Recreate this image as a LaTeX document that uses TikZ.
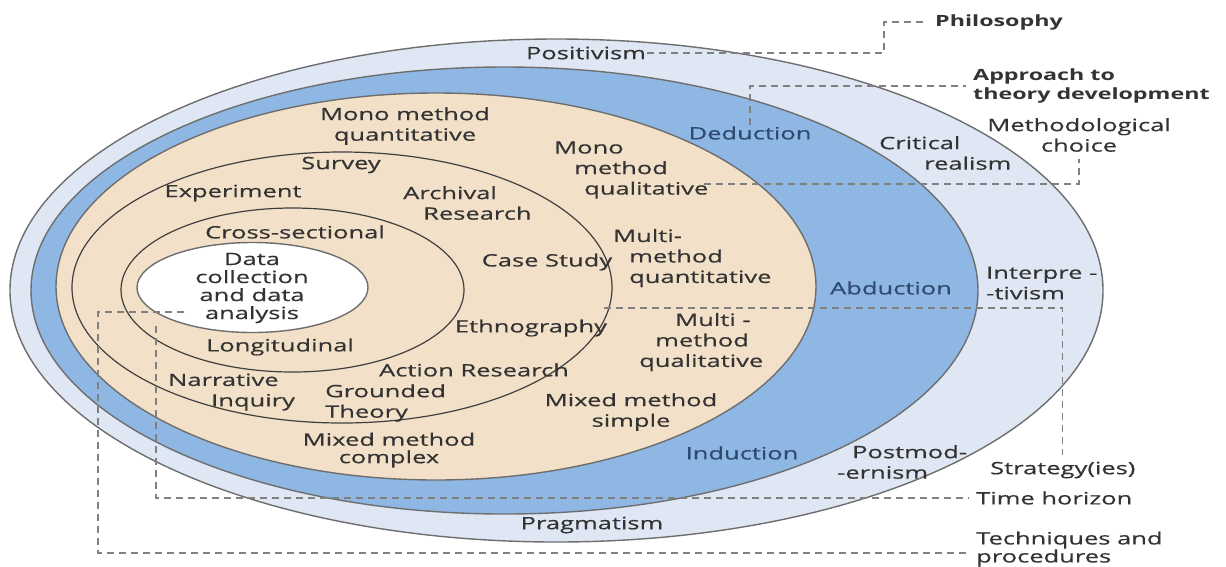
\documentclass[tikz,border=0pt]{standalone}
\usepackage{fontspec}
\setmainfont{Open Sans}[FakeStretch=1.5, UprightFeatures={FakeBold=0.5}]
\usepackage{tikz}
\usepackage{xcolor}
\usetikzlibrary{positioning, calc}
\definecolor{philoblue}{HTML}{DFE7F4}
\definecolor{approachblue}{HTML}{8FB7E4}
\definecolor{choicebeige}{HTML}{F2E0C8}
\definecolor{rimgray}{HTML}{6E6E6E}
\definecolor{textgray}{HTML}{333333}
\definecolor{deepslate}{HTML}{2E4A6E}
\tikzstyle{layer} = [draw=rimgray, line width=1.4pt]
\tikzstyle{ring} = [draw=black!75, line width=1.2pt]
\tikzstyle{txt} = [text=textgray, align=center, inner sep=1pt]
\tikzstyle{side} = [txt, align=left, anchor=west]
\tikzstyle{appr} = [txt, text=deepslate]
\tikzstyle{leader} = [draw=black!50, line width=1.2pt, dash pattern=on 7pt off 5pt, shorten >=6pt]

\begin{document}
\begin{tikzpicture}[x=1pt, y=-1pt, font=\fontsize{17}{20.5}\selectfont]
\useasboundingbox (0,0) rectangle (1226,566);

% layers of the onion
\draw[layer, fill=philoblue] (556.5,290.5) ellipse [x radius=546.5, y radius=251.5];
\draw[layer, fill=approachblue] (504.5,290.5) ellipse [x radius=473.5, y radius=223.5];
\draw[layer, fill=choicebeige] (436,286.5) ellipse [x radius=380, y radius=193.5];
\draw[ring] (342,287.5) ellipse [x radius=270, y radius=135.5];
\draw[ring] (292.5,290) ellipse [x radius=171.5, y radius=82];
\draw[layer, fill=white] (252.5,287.5) ellipse [x radius=115.5, y radius=45];

% philosophy
\node[txt] (positivism) at (586,53) {Positivism};
\node[txt] (pragmatism) at (592,525) {Pragmatism};
\node[side] (critical) at (878,153) {Critical\\\hspace*{45pt}realism};
\node[side] (interpretivism) at (985,283) {Interpre -\\-tivism};
\node[side] (postmodernism) at (836,462) {\hspace*{15pt}Postmod-\\-ernism};

% approach
\node[appr] (deduction) at (750,133) {Deduction};
\node[appr] (abduction) at (891,288) {Abduction};
\node[appr] (induction) at (742,453) {Induction};

% choice
\node[txt] (monoquant) at (405,126) {Mono method\\quantitative};
\node[side] (monoqual) at (553,170) {Mono\\\hspace*{20pt}method\\\hspace*{30pt}qualitative};
\node[side] (multiquant) at (612,258) {Multi-\\\hspace*{16pt}method\\\hspace*{16pt}quantitative};
\node[side] (multiqual) at (638,342) {\hspace*{36pt}Multi -\\\hspace*{16pt}method\\qualitative};
\node[txt] (mixedsimple) at (631,412) {Mixed method\\simple};
\node[txt, font=\fontsize{17}{17.5}\selectfont] (mixedcomplex) at (389,450) {Mixed method\\complex};

% strategies
\node[txt] (survey) at (341,165) {Survey};
\node[txt] (experiment) at (233,193) {Experiment};
\node[side] (archival) at (402,203) {Archival\\\hspace*{20pt}Research};
\node[txt] (casestudy) at (547,262) {Case Study};
\node[txt] (ethnography) at (531,328) {Ethnography};
\node[txt] (actionresearch) at (474,370) {Action Research};
\node[side] (narrative) at (167,392) {Narrative\\\hspace*{43pt}Inquiry};
\node[side] (grounded) at (324,403) {Grounded\\Theory};

% time horizon and core
\node[txt] (crosssectional) at (295,232) {Cross-sectional};
\node[txt] (longitudinal) at (280,347) {Longitudinal};
\node[txt, font=\fontsize{17}{18}\selectfont] (datacollection) at (252,288) {Data\\collection\\and data\\analysis};

% labels on the right
\node[side, font=\fontsize{15.5}{19}\bfseries] (philosophy) at (934,22) {Philosophy};
\node[side, font=\fontsize{15.5}{18.5}\bfseries] (approach) at (972,86) {Approach to\\theory development};
\node[txt] (methodological) at (1079,135) {Methodological\\choice};
\node[side] (strategy) at (989,470) {Strategy(ies)};
\node[side] (timehorizon) at (975,498) {Time horizon};
\node[side, font=\fontsize{17}{18}\selectfont] (techniques) at (975,549) {Techniques and\\procedures};

% leaders
\coordinate (philoturn) at (884,53);
\coordinate (choicestart) at (704,184);
\coordinate (strategystart) at (604,308);
\coordinate (timestart) at (156,326);
\coordinate (techstart) at (184,312);
\coordinate (techcorner) at (98,553);
\draw[leader] (positivism.east) -- (philoturn) |- (philosophy.west);
\draw[leader] (deduction.north) |- (approach.west);
\draw[leader] (choicestart) -| (methodological.south);
\draw[leader] (strategystart) -| (strategy.north);
\draw[leader] (timestart) |- (timehorizon.west);
\draw[leader] (techstart) -| (techcorner) -- (techcorner -| techniques.west);
\end{tikzpicture}
\end{document}
